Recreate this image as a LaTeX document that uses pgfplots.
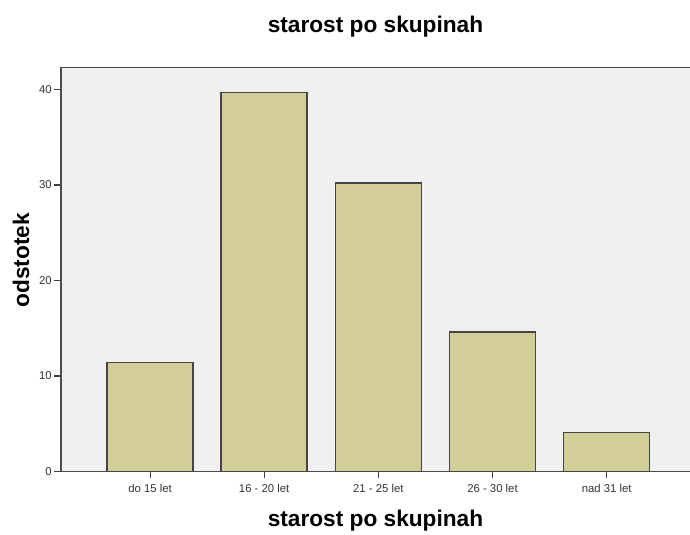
\documentclass[border=0pt]{standalone}
\usepackage{pgfplots}
\pgfplotsset{compat=1.18}
\usepackage{fontspec}
\setmainfont{Liberation Sans}

\definecolor{barfill}{HTML}{D3CE97}
\definecolor{plotbg}{HTML}{F0F0F0}
\definecolor{edge}{HTML}{454545}

\begin{document}
\begin{tikzpicture}
\begin{axis}[
  at={(45.75pt,47.625pt)}, anchor=south west,
  scale only axis,
  width=471.75pt, height=303pt,
  xmin=-0.78, xmax=4.73,
  ymin=0, ymax=42.3,
  axis x line*=box,
  axis y line*=left,
  axis line style={draw=black!70, line width=1.1pt},
  axis background/.style={fill=plotbg},
  xtick={0,1,2,3,4},
  xticklabels={do 15 let, 16 - 20 let, 21 - 25 let, 26 - 30 let, nad 31 let},
  ytick={0,10,20,30,40},
  xtick pos=left, ytick pos=left,
  tick align=outside,
  major tick length=5pt,
  tick style={draw=black!75, line width=0.8pt},
  ticklabel style={font=\fontsize{8.5}{10}\selectfont, text=black!80},
  /pgf/number format/assume math mode=true,
  xticklabel style={yshift=-1pt},
  yticklabel style={xshift=1.5pt},
  title={\bfseries starost po skupinah},
  title style={font=\fontsize{17}{20}\selectfont, at={(axis description cs:0.5,1)}, anchor=center, yshift=25pt},
  xlabel={\bfseries starost po skupinah},
  xlabel style={font=\fontsize{17}{20}\selectfont, at={(axis description cs:0.5,0)}, anchor=center, yshift=-37pt},
  ylabel={\bfseries odstotek},
  ylabel style={font=\fontsize{17}{20}\selectfont, at={(axis description cs:0,0.523)}, anchor=center, yshift=30pt},
  ybar, bar width=64.5pt,
]
\addplot[ybar, fill=barfill, draw=edge, line width=1.1pt] coordinates {
  (0,11.4) (1,39.7) (2,30.2) (3,14.6) (4,4.1)
};
\end{axis}
\pgfresetboundingbox
\path[use as bounding box] (0,0) rectangle (517.5pt,401.25pt);
\end{tikzpicture}
\end{document}
